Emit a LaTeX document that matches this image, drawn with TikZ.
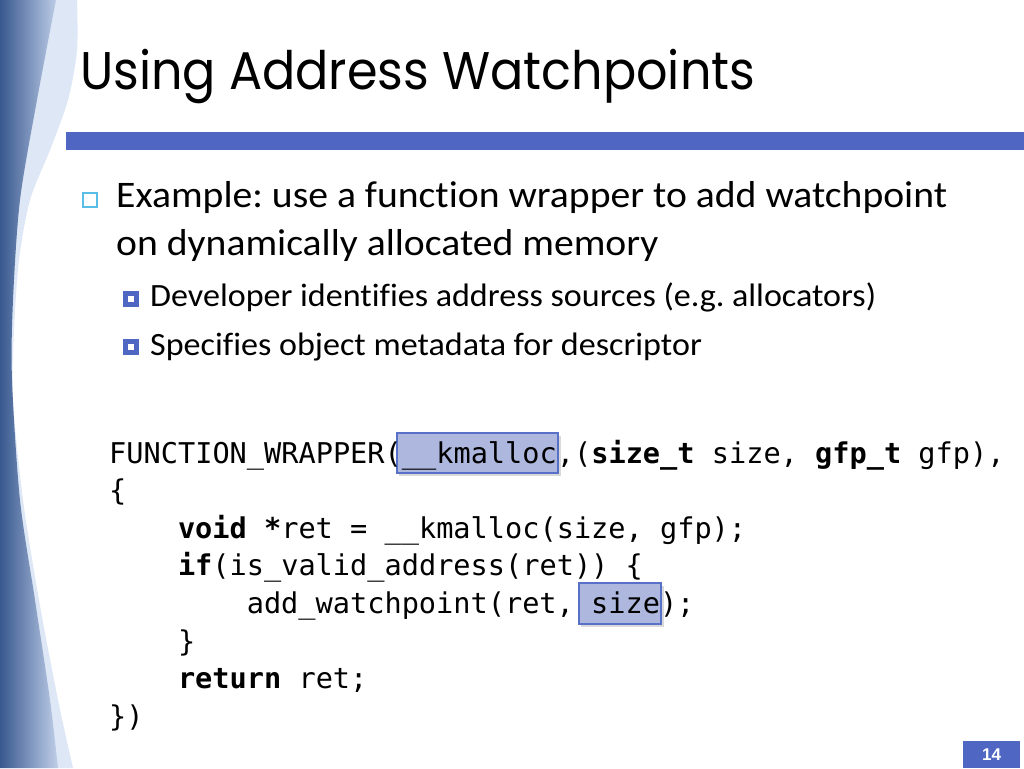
\documentclass[tikz,border=0pt]{standalone}
\usepackage{graphicx}
\usepackage{fontspec}
\setmainfont{Carlito}[Ligatures=NoCommon]
\setmonofont{DejaVu Sans Mono}
\newfontfamily\titlefont{Poppins}
\newfontfamily\pagefont{Liberation Sans}
\definecolor{barblue}{RGB}{79,103,194}
\definecolor{cyanbul}{RGB}{90,190,230}
\definecolor{titlecol}{RGB}{30,38,70}
\definecolor{hlfill}{RGB}{174,184,223}
\definecolor{hldraw}{RGB}{88,112,200}
\definecolor{banddark}{RGB}{56,88,142}
\definecolor{bandlight}{RGB}{192,207,233}
\definecolor{swoosh}{RGB}{221,231,246}
\newsavebox\titlebox
\newsavebox\mainbox
\newsavebox\subbox
\newcommand\mainfs{\fontsize{37.5}{44}\selectfont}
\newcommand\subfs{\fontsize{32.5}{38}\selectfont}
\begin{document}
\frenchspacing
\sbox\titlebox{\titlefont\fontsize{53}{60}\selectfont Using Address Watchpoints}%
\pgfmathsetmacro\tsx{675/\the\wd\titlebox}%
\sbox\mainbox{\mainfs Example: use a function wrapper to add watchpoint}%
\pgfmathsetmacro\msx{831/\the\wd\mainbox}%
\sbox\subbox{\subfs Developer identifies address sources (e.g. allocators)}%
\pgfmathsetmacro\ssx{726/\the\wd\subbox}%
\begin{tikzpicture}[x=1pt,y=-1pt,
  body/.style={anchor=base west,inner sep=0pt},
  code/.style={anchor=base west,inner sep=0pt,font=\ttfamily\fontsize{28.6}{37.6}\selectfont},
  hlbox/.style={fill=hlfill,draw=hldraw,line width=1.3pt},
  hlshadow/.style={fill=black,opacity=0.15},
  subbul/.style={fill=barblue},
  subin/.style={fill=white}]
\useasboundingbox (0,0) rectangle (1024,768);
\fill[white] (0,0) rectangle (1024,768);
% left decoration
\fill[swoosh] plot[smooth] coordinates {(77,0) (77,50) (68,100) (50,150) (30,200) (19,260) (14,330) (13,400) (23,500) (39,600) (58,700) (73,768)} -- (0,768) -- (0,0) -- cycle;
\shade[left color=banddark,right color=bandlight] plot[smooth] coordinates {(56,0) (37,100) (20,200) (13,300) (12,380) (20,500) (35,600) (50,700) (58,768)} -- (0,768) -- (0,0) -- cycle;
% title
\node[anchor=base west,inner sep=0pt,text=titlecol] (title) at (80,89) {\scalebox{\tsx}[1]{\usebox\titlebox}};
% header bar
\fill[barblue] (66,132) rectangle (1024,150);
% bullets
\draw[cyanbul,line width=2pt] (83,193) rectangle (97,207);
\node[body] (b1a) at (116,207.5) {\scalebox{\msx}[1]{\usebox\mainbox}};
\node[body] (b1b) at (116,255) {\scalebox{\msx}[1]{\mainfs on dynamically allocated memory}};
\fill[subbul] (122.5,291) rectangle (138.5,307);
\fill[subin] (127.5,296) rectangle (133.5,302);
\node[body] (s1) at (150,306) {\scalebox{\ssx}[1]{\usebox\subbox}};
\fill[subbul] (122.5,338.5) rectangle (138.5,354.5);
\fill[subin] (127.5,343.5) rectangle (133.5,349.5);
\node[body] (s2) at (150,355) {\scalebox{\ssx}[1]{\subfs Specifies object metadata for descriptor}};
% highlight boxes
\fill[hlshadow] (399,436) rectangle (561,476);
\draw[hlbox] (397,433) rectangle (558,473);
\fill[hlshadow] (581,586) rectangle (664,627);
\draw[hlbox] (579,583) rectangle (661,624);
% code
\node[code] (c1) at (109,463) {FUNCTION\_WRAPPER(\_\_kmalloc,(\textbf{size\_t} size, \textbf{gfp\_t} gfp),};
\node[code] (c2) at (109,500.6) {\{};
\node[code] (c3) at (177.8,538.2) {\textbf{void *}ret = \_\_kmalloc(size, gfp);};
\node[code] (c4) at (177.8,575.8) {\textbf{if}(is\_valid\_address(ret)) \{};
\node[code] (c5) at (246.6,613.4) {add\_watchpoint(ret, size);};
\node[code] (c6) at (177.8,651) {\}};
\node[code] (c7) at (177.8,688.6) {\textbf{return} ret;};
\node[code] (c8) at (109,726.2) {\})};
% page number
\fill[barblue] (963,741) rectangle (1020,768);
\node[inner sep=0pt,text=white,font=\pagefont\bfseries\fontsize{17}{20}\selectfont] (pg) at (991.5,754.5) {14};
\end{tikzpicture}
\end{document}
